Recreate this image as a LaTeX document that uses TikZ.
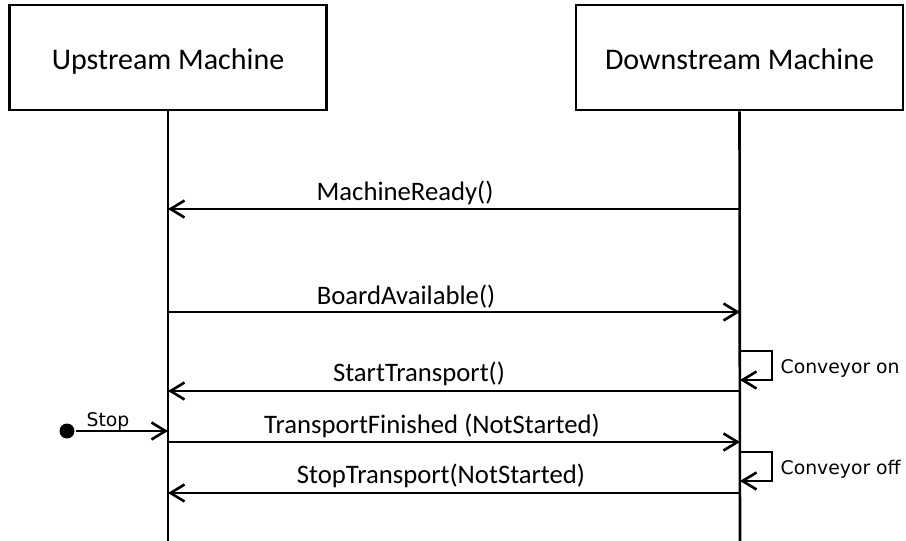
\documentclass[tikz,border=0pt]{standalone}
\usepackage{fontspec}
\setmainfont{Carlito}
\newfontfamily\notefont{DejaVu Sans}
\usetikzlibrary{arrows.meta}

\begin{document}
\begin{tikzpicture}[x=1pt,y=-1pt,
		line width=2.6pt,
		machine/.style={draw,minimum height=105pt},
		title/.style={anchor=base,font=\fontsize{30}{36}\selectfont},
		msg/.style={-{Straight Barb[length=14pt,width=17pt,line width=2.6pt]}},
		msgtext/.style={anchor=base,font=\fontsize{26.7}{32}\selectfont},
		notetext/.style={font=\notefont\fontsize{18.8}{22}\selectfont,anchor=base west},
		dot/.style={circle,fill,inner sep=0pt,minimum size=15pt}]
		\useasboundingbox (0,0) rectangle (906,541);
		\node[machine,minimum width=317pt] (up) at (168,57.5) {};
		\node[machine,minimum width=327pt] (down) at (739.5,57.5) {};
		\node[title] (uptext) at (168,69) {Upstream Machine};
		\node[title] (downtext) at (739.5,69) {Downstream Machine};
		\coordinate (upend) at (168,545);
		\coordinate (downend) at (740,545);
		\draw (up.south) -- (upend);
		\draw (down.south) -- (downend);
		% message rows
		\foreach \n/\y in {1/209,2/312,3/391,4/442,5/493} {
			\coordinate (u\n) at (168,\y);
			\coordinate (d\n) at (740,\y);
		}
		\draw[msg] (d1) -- (u1);
		\node[msgtext] (mready) at (405,200) {MachineReady()};
		\draw[msg] (u2) -- (d2);
		\node[msgtext] (bavail) at (406,304) {BoardAvailable()};
		\draw[msg] (d3) -- (u3);
		\node[msgtext] (starttr) at (419,381) {StartTransport()};
		\draw[msg] (u4) -- (d4);
		\node[msgtext] (trfin) at (432,433) {TransportFinished (NotStarted)};
		\draw[msg] (d5) -- (u5);
		\node[msgtext] (stoptr) at (441,483) {StopTransport(NotStarted)};
		% conveyor self calls
		\coordinate (on1) at (740,351);
		\coordinate (on2) at (772,351);
		\coordinate (on3) at (740,380);
		\draw[msg] (on1) -- (on2) |- (on3);
		\node[notetext] (conon) at (776,373) {Conveyor on};
		\coordinate (off1) at (740,452);
		\coordinate (off2) at (772,452);
		\coordinate (off3) at (740,481);
		\draw[msg] (off1) -- (off2) |- (off3);
		\node[notetext] (conoff) at (776,474) {Conveyor off};
		% stop signal
		\node[dot] (stop) at (67,431) {};
		\coordinate (ustop) at (168,431);
		\draw[msg] (stop) -- (ustop);
		\node[notetext,anchor=base] (stoptext) at (108,426) {Stop};
	\end{tikzpicture}
\end{document}
